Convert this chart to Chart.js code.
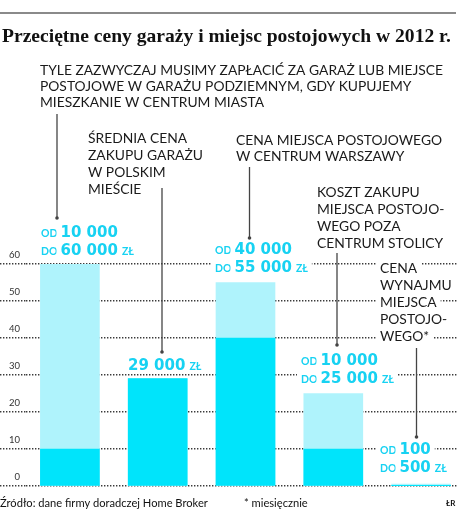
<!DOCTYPE html>
<html>
<head>
<meta charset="utf-8">
<script src="https://cdn.jsdelivr.net/npm/chart.js@4"></script>
<style>
    html, body { margin: 0; padding: 0; background: #fff; }
    #wrap { width: 458px; height: 526px; overflow: hidden; }
</style>
</head>
<body>
<div id="wrap"><canvas id="chart" width="465" height="526"></canvas></div>
<script>
// ceny w tys. zł
const categories = ['Garaż w centrum miasta', 'Średnia cena garażu', 'Centrum Warszawy', 'Poza centrum stolicy', 'Wynajem (miesięcznie)'];
const minPrice = [10, 29, 40, 10, 0.1];
const maxPrice = [60, 29, 55, 25, 0.5];
const yTicks = [0, 10, 20, 30, 40, 50, 60];

const title = 'Przeciętne ceny garaży i miejsc postojowych w 2012 r.';
const notes = [
    { x: 40, y: 75, step: 16, lines: ['TYLE ZAZWYCZAJ MUSIMY ZAPŁACIĆ ZA GARAŻ LUB MIEJSCE', 'POSTOJOWE W GARAŻU PODZIEMNYM, GDY KUPUJEMY', 'MIESZKANIE W CENTRUM MIASTA'] },
    { x: 88, y: 143, step: 17, lines: ['ŚREDNIA CENA', 'ZAKUPU GARAŻU', 'W POLSKIM', 'MIEŚCIE'] },
    { x: 236, y: 145, step: 16, lines: ['CENA MIEJSCA POSTOJOWEGO', 'W CENTRUM WARSZAWY'] },
    { x: 317, y: 197, step: 17, lines: ['KOSZT ZAKUPU', 'MIEJSCA POSTOJO-', 'WEGO POZA', 'CENTRUM STOLICY'] },
    { x: 380, y: 273, step: 17, lines: ['CENA', 'WYNAJMU', 'MIEJSCA', 'POSTOJO-', 'WEGO*'] }
];
// gdzie stoją podpisy kwot i kreski prowadzące
const valuePos = [[41, 237], [128, 370], [215, 254], [301, 365], [380, 454]];
const leaders = [[57, 114, 218], [162, 188, 352], [249.5, 167, 238], [337, 253, 345], [416.5, 348, 437]];

const CYAN = '#00e4fb';
const LIGHT = '#aff3fc';
const TEXT_CYAN = '#17d2f2';
const DOTS = [1.4, 1.6];

function fmt(v) {
    return String(Math.round(v * 1000)).replace(/\B(?=(\d{3})+(?!\d))/g, ' ');
}

function fitSize(ctx, text, weight, family, target) {
    ctx.font = weight + ' 20px ' + family;
    return 20 * target / ctx.measureText(text).width;
}

function whiteText(ctx, text, x, y, cap) {
    let w = ctx.measureText(text).width;
    ctx.save();
    ctx.fillStyle = '#fff';
    ctx.fillRect(x - 4, y - cap - 3, w + 8, cap + 6);
    ctx.restore();
    ctx.fillText(text, x, y);
    return w;
}

function drawValue(ctx, x, y, pre, num, suf) {
    ctx.fillStyle = TEXT_CYAN;
    ctx.font = 'bold 10.5px Lato';
    let cx = x;
    if (pre) {
        cx += whiteText(ctx, pre, cx, y, 8) + 3;
    }
    ctx.font = 'bold 15px "DejaVu Sans"';
    cx += whiteText(ctx, num, cx, y, 11) + 4;
    if (suf) {
        ctx.font = 'bold 10.5px Lato';
        whiteText(ctx, suf, cx, y, 8);
    }
}

const annotations = {
    id: 'annotations',
    afterDraw(chart) {
        const ctx = chart.ctx;
        ctx.save();
        ctx.textBaseline = 'alphabetic';
        ctx.textAlign = 'left';

        // kreska u góry
        ctx.strokeStyle = '#8a8a8a';
        ctx.lineWidth = 2;
        ctx.beginPath();
        ctx.moveTo(0, 13);
        ctx.lineTo(456, 13);
        ctx.stroke();

        // tytuł
        let ts = fitSize(ctx, title, 'bold', '"Liberation Serif"', 449);
        ctx.font = 'bold ' + ts + 'px "Liberation Serif"';
        ctx.fillStyle = '#111';
        ctx.fillText(title, 2, 42);

        // opisy
        let ns = fitSize(ctx, notes[0].lines[0], 'normal', 'Lato', 403);
        ctx.font = ns + 'px Lato';
        ctx.fillStyle = '#1a1a1a';
        notes.forEach(n => {
            n.lines.forEach((line, i) => whiteText(ctx, line, n.x, n.y + i * n.step, 11));
        });

        // kwoty
        valuePos.forEach((p, i) => {
            if (minPrice[i] === maxPrice[i]) {
                drawValue(ctx, p[0], p[1], '', fmt(minPrice[i]), 'ZŁ');
            } else {
                drawValue(ctx, p[0], p[1], 'OD', fmt(minPrice[i]), '');
                drawValue(ctx, p[0], p[1] + 18, 'DO', fmt(maxPrice[i]), 'ZŁ');
            }
        });

        // kreski prowadzące
        ctx.strokeStyle = '#444';
        ctx.fillStyle = '#444';
        ctx.lineWidth = 1.3;
        leaders.forEach(l => {
            ctx.beginPath();
            ctx.moveTo(l[0], l[1]);
            ctx.lineTo(l[0], l[2]);
            ctx.stroke();
            ctx.beginPath();
            ctx.arc(l[0], l[2], 1.8, 0, Math.PI * 2);
            ctx.fill();
        });

        // stopka
        let src = 'Źródło: dane firmy doradczej Home Broker';
        let fs = fitSize(ctx, src, 'normal', 'Lato', 208);
        ctx.font = fs + 'px Lato';
        ctx.fillStyle = '#111';
        ctx.fillText(src, 0, 507);
        ctx.fillText('* miesięcznie', 244, 507);
        ctx.font = 'bold 8px Lato';
        ctx.fillText('ŁR', 446, 506);
        ctx.restore();
    }
};

let ctx = document.getElementById('chart').getContext('2d');
new Chart(ctx, {
    type: 'bar',
    data: {
        labels: categories,
        datasets: [{
            label: 'od',
            data: minPrice,
            backgroundColor: CYAN,
            barThickness: 59,
            grouped: false
        }, {
            label: 'do',
            data: maxPrice,
            backgroundColor: LIGHT,
            barThickness: 59,
            grouped: false
        }]
    },
    options: {
        responsive: false,
        animation: false,
        layout: { padding: { top: 264, bottom: 40, left: 0, right: 0 } },
        plugins: {
            legend: { display: false },
            tooltip: { enabled: false }
        },
        scales: {
            x: { display: false },
            y: {
                min: yTicks[0],
                max: yTicks[yTicks.length - 1],
                afterBuildTicks: (scale) => { scale.ticks = yTicks.map(v => ({ value: v })); },
                afterFit: (scale) => { scale.width = 26; },
                ticks: {
                    color: '#333',
                    font: { family: 'Lato', size: 9.5 },
                    padding: -20,
                    labelOffset: -9
                },
                grid: {
                    color: '#3a3a3a',
                    lineWidth: 1.4,
                    drawTicks: true,
                    tickLength: 26,
                    tickColor: '#3a3a3a',
                    tickWidth: 1.4,
                    tickBorderDash: DOTS
                },
                border: { display: false, dash: DOTS }
            }
        }
    },
    plugins: [annotations]
});
</script>
</body>
</html>
